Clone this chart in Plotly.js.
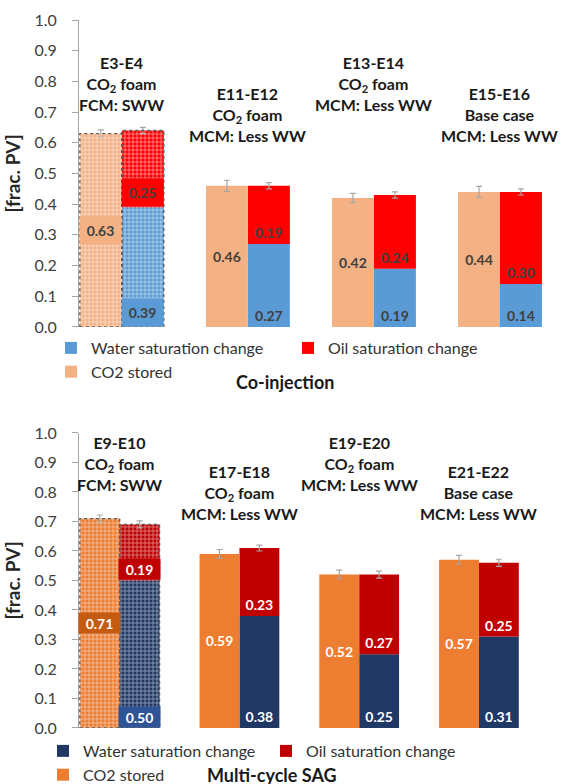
<!DOCTYPE html>
<html><head><meta charset="utf-8">
<script src="https://cdn.plot.ly/plotly-3.0.1.min.js"></script>
<style>html,body{margin:0;padding:0;background:#fff;} #chart{width:569px;height:784px;}</style>
</head><body><div id="chart"></div>
<script>
// ---- Data: Co-injection (top panel) ----
const catsTop = ['E3-E4', 'E11-E12', 'E13-E14', 'E15-E16'];
const groupLabelsTop = ['E3-E4<br>CO<sub>2</sub> foam<br>FCM: SWW',
  'E11-E12<br>CO<sub>2</sub> foam<br>MCM: Less WW',
  'E13-E14<br>CO<sub>2</sub> foam<br>MCM: Less WW',
  'E15-E16<br>Base case<br>MCM: Less WW'];
const waterTop = [0.39, 0.27, 0.19, 0.14];
const oilTop = [0.25, 0.19, 0.24, 0.30];
const co2Top = [0.63, 0.46, 0.42, 0.44];
const co2ErrTop = [0.012, 0.018, 0.015, 0.018];
const oilErrTop = [0.010, 0.010, 0.010, 0.010];

// ---- Data: Multi-cycle SAG (bottom panel) ----
const catsBot = ['E9-E10', 'E17-E18', 'E19-E20', 'E21-E22'];
const groupLabelsBot = ['E9-E10<br>CO<sub>2</sub> foam<br>FCM: SWW',
  'E17-E18<br>CO<sub>2</sub> foam<br>MCM: Less WW',
  'E19-E20<br>CO<sub>2</sub> foam<br>MCM: Less WW',
  'E21-E22<br>Base case<br>MCM: Less WW'];
const waterBot = [0.50, 0.38, 0.25, 0.31];
const oilBot = [0.19, 0.23, 0.27, 0.25];
const co2Bot = [0.71, 0.59, 0.52, 0.57];
const co2ErrBot = [0.012, 0.015, 0.015, 0.015];
const oilErrBot = [0.012, 0.010, 0.012, 0.012];

const seriesNames = ['Water saturation change', 'Oil saturation change', 'CO2 stored'];
const panelTitles = ['Co-injection', 'Multi-cycle SAG'];

// ---- Styling / layout positions ----
const W = 0.333;
const FONT = 'Lato, "Open Sans", sans-serif';
// paper-y of the bottom of each group's label block
const groupLabelPaperTop = [0.864, 0.820, 0.864, 0.820];
const groupLabelPaperBot = [0.328, 0.287, 0.327, 0.287];

const styleTop = {water:'#5B9BD5', oil:'#FF0000', co2:'#F4B183', text:'#404040',
  box:{water:'#5B9BD5', oil:'#FF0000', co2:'#F4B183'}, boxH:27, fg:'rgba(255,255,255,0.6)'};
const styleBot = {water:'#203864', oil:'#C00000', co2:'#ED7D31', text:'#FFFFFF',
  box:{water:'#2F5597', oil:'#C00000', co2:'#C55A11'}, boxH:20, fg:'rgba(255,255,255,0.55)'};

const traces = [];
const annotations = [];
const shapes = [];

function panel(cats, labels, labelY, water, oil, co2, co2Err, oilErr, st, xa, ya, leg) {
  const xref = xa, yref = ya;
  const txt = arr => arr.map((v, i) => i === 0 ? '' : v.toFixed(2));
  const tf = {family: FONT, size: 14, color: st.text, weight: 'bold'};
  const err = arr => ({type:'data', array: arr, visible:true, color:'#A6A6A6', thickness:1.2, width:3});
  // solid bars (carry the legend)
  traces.push({type:'bar', name: seriesNames[0], x: cats, y: water, base: water.map(() => 0),
    offset: 0, width: W, xaxis: xa, yaxis: ya, legend: leg,
    marker:{color: st.water}, text: txt(water), textposition:'inside', insidetextanchor:'start',
    textangle: 0, textfont: tf, hoverinfo:'skip'});
  traces.push({type:'bar', name: seriesNames[1], x: cats, y: oil, base: water,
    offset: 0, width: W, xaxis: xa, yaxis: ya, legend: leg,
    marker:{color: st.oil}, text: txt(oil), textposition:'inside', insidetextanchor:'start',
    textangle: 0, textfont: tf, error_y: err(oilErr), hoverinfo:'skip'});
  traces.push({type:'bar', name: seriesNames[2], x: cats, y: co2, base: co2.map(() => 0),
    offset: -W, width: W, xaxis: xa, yaxis: ya, legend: leg,
    marker:{color: st.co2}, text: txt(co2), textposition:'inside', insidetextanchor:'middle',
    textangle: 0, textfont: tf, error_y: err(co2Err), hoverinfo:'skip'});
  // patterned overlay for the first (FCM) group
  const pat = {shape:'+', fgcolor: st.fg, size: 4, solidity: 0.35};
  traces.push({type:'bar', x:[cats[0]], y:[water[0]], base:[0], offset:0, width:W,
    xaxis: xa, yaxis: ya, showlegend:false, marker:{color: st.water, pattern: pat}, hoverinfo:'skip'});
  traces.push({type:'bar', x:[cats[0]], y:[oil[0]], base:[water[0]], offset:0, width:W,
    xaxis: xa, yaxis: ya, showlegend:false, marker:{color: st.oil, pattern: pat}, hoverinfo:'skip'});
  traces.push({type:'bar', x:[cats[0]], y:[co2[0]], base:[0], offset:-W, width:W,
    xaxis: xa, yaxis: ya, showlegend:false, marker:{color: st.co2, pattern: pat}, hoverinfo:'skip'});
  // dashed outlines around first group bars
  const dl = {color:'#595959', width:1.3, dash:'dot'};
  shapes.push({type:'rect', xref, yref, x0:-W, x1:0, y0:0, y1:co2[0], line: dl, layer:'above'});
  shapes.push({type:'rect', xref, yref, x0:0, x1:W, y0:0, y1:water[0] + oil[0], line: dl, layer:'above'});
  // value boxes for first group
  const bf = {family: FONT, size: 14, color: st.text, weight: 'bold'};
  const box = (x, y, yanchor, v, c) => annotations.push({xref, yref, x, y, yanchor, xanchor:'center',
    text: v.toFixed(2), showarrow:false, bgcolor:c, width:41, height: st.boxH, borderpad:0, font: bf});
  box(-W/2, co2[0]/2, 'middle', co2[0], st.box.co2);
  box(W/2, water[0], 'bottom', oil[0], st.box.oil);
  box(W/2, 0, 'bottom', water[0], st.box.water);
  // group labels
  labels.forEach((t, i) => annotations.push({xref, yref:'paper', x: i, y: labelY[i], text: t, showarrow:false,
    xanchor:'center', yanchor:'bottom', align:'center',
    font:{family: FONT, size: 16, color:'#1A1A1A', weight:'bold'}}));
}

panel(catsTop, groupLabelsTop, groupLabelPaperTop, waterTop, oilTop, co2Top, co2ErrTop, oilErrTop, styleTop, 'x', 'y', 'legend');
panel(catsBot, groupLabelsBot, groupLabelPaperBot, waterBot, oilBot, co2Bot, co2ErrBot, oilErrBot, styleBot, 'x2', 'y2', 'legend2');

annotations.push({xref:'paper', yref:'paper', x:0.4256, y:0.4887, text: panelTitles[0], showarrow:false,
  xanchor:'center', yanchor:'middle', font:{family: FONT, size:18, color:'#1A1A1A', weight:'bold'}});
annotations.push({xref:'paper', yref:'paper', x:0.399, y:-0.066, text: panelTitles[1], showarrow:false,
  xanchor:'center', yanchor:'middle', font:{family: FONT, size:18, color:'#1A1A1A', weight:'bold'}});

const xax = (dom, cats) => ({domain: dom, range:[-0.34, 3.5], type:'category', categoryorder:'array', categoryarray: cats,
  showline:false, showticklabels:false, ticks:'', showgrid:false, zeroline:false, fixedrange:true, automargin:false});
const yax = (dom, anchor) => ({domain: dom, anchor, range:[0, 1], dtick:0.1, tick0:0, tickformat:'.1f',
  showline:true, linecolor:'#A6A6A6', linewidth:1, ticks:'outside', ticklen:6, tickcolor:'#A6A6A6',
  showgrid:false, zeroline:false, ticklabelstandoff: 12, automargin:false,
  tickfont:{family: FONT, size:16, color:'#404040'},
  title:{text:'[frac. PV]', font:{family: FONT, size:19, color:'#262626', weight:'bold'}, standoff: 8}});
const legendCfg = (x, y, ew) => ({orientation:'h', xref:'container', yref:'container', x, xanchor:'left', y, yanchor:'top',
  traceorder:'normal', entrywidth: ew, entrywidthmode:'pixels', bgcolor:'rgba(0,0,0,0)',
  font:{family: FONT, size:16, color:'#333333'}, itemclick:false, itemdoubleclick:false});

const xa1 = xax([0, 1], catsTop); xa1.anchor = 'y';
const xa2 = xax([0, 0.95], catsBot); xa2.anchor = 'y2';

const layout = {
  width:569, height:784, margin:{l:79, r:6, t:20, b:56, autoexpand:false},
  paper_bgcolor:'#FFFFFF', plot_bgcolor:'rgba(0,0,0,0)',
  barmode:'overlay', showlegend:true,
  xaxis: xa1, yaxis: yax([0.5664, 1], 'x'),
  xaxis2: xa2, yaxis2: yax([0, 0.4167], 'x2'),
  legend: legendCfg(0.0896, 0.5778, 192), legend2: legendCfg(0.0756, 0.0638, 178),
  annotations, shapes
};

Plotly.newPlot('chart', traces, layout, {staticPlot:true, displayModeBar:false});
</script>
</body></html>
